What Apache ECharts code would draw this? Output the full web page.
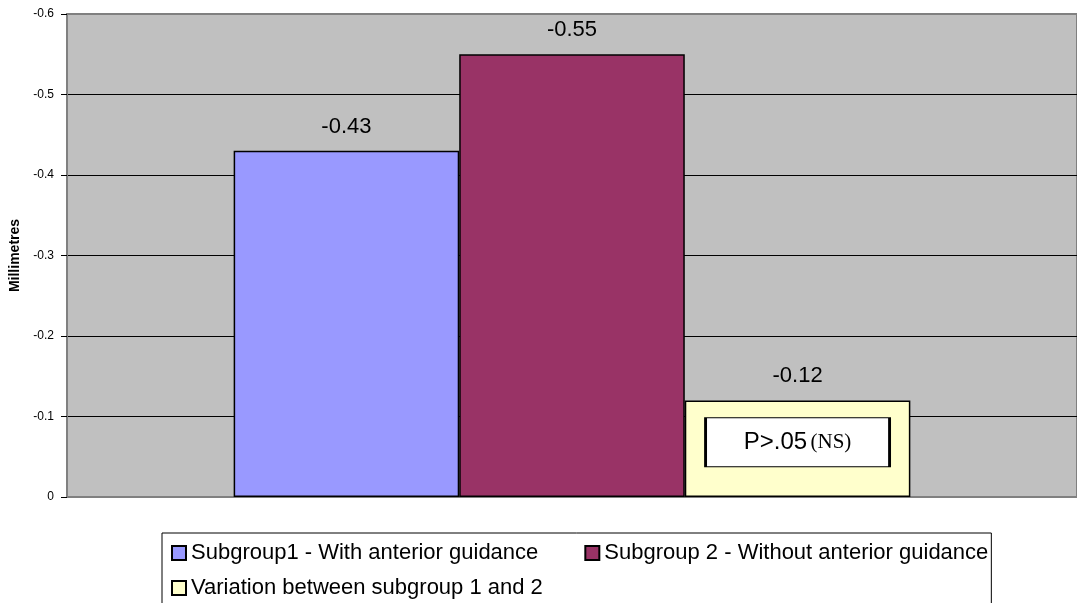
<!DOCTYPE html>
<html>
<head>
<meta charset="utf-8">
<script src="https://cdn.jsdelivr.net/npm/echarts@6/dist/echarts.min.js"></script>
<style>
html,body{margin:0;padding:0;background:#fff;}
#chart{width:1077px;height:603px;}
</style>
</head>
<body>
<div id="chart"></div>
<script>
const categories = ['Change'];
const seriesNames = ['Subgroup1 - With anterior guidance', 'Subgroup 2 - Without anterior guidance', 'Variation between subgroup 1 and 2'];
const subgroup1 = [-0.43];
const subgroup2 = [-0.55];
const variation = [-0.12];
const seriesColors = ['#9999FF', '#993366', '#FFFFCC'];
const yTicks = { min: -0.6, max: 0, interval: 0.1 };
const annotation = { text: 'P>.05', note: '(NS)', value: -0.068 };

const font = 'Arial, "Liberation Sans", sans-serif';
const chart = echarts.init(document.getElementById('chart'));

function barSeries(name, data, color, extra) {
  return Object.assign({
    name: name,
    type: 'bar',
    data: data,
    barGap: '0%',
    barCategoryGap: '33%',
    itemStyle: { color: color, borderColor: '#000', borderWidth: 1.5 },
    label: {
      show: true, position: 'top', distance: 13,
      fontFamily: font, fontSize: 22, color: '#000'
    },
    emphasis: { disabled: true }
  }, extra || {});
}

const legendBase = {
  orient: 'horizontal',
  itemWidth: 14, itemHeight: 14,
  icon: 'rect',
  textStyle: { fontFamily: font, fontSize: 22, color: '#000' }
};

chart.setOption({
  animation: false,
  backgroundColor: '#fff',
  grid: {
    left: 67, top: 14, bottom: 106, width: 1016,
    show: true, backgroundColor: '#C0C0C0', borderColor: '#808080', borderWidth: 2
  },
  xAxis: {
    type: 'category',
    data: categories,
    axisLine: { show: true, lineStyle: { color: '#808080', width: 2 } },
    axisTick: { show: false },
    axisLabel: { show: false }
  },
  yAxis: {
    type: 'value',
    inverse: true,
    min: yTicks.min, max: yTicks.max, interval: yTicks.interval,
    name: 'Millimetres',
    nameLocation: 'middle',
    nameRotate: 90,
    nameGap: 40,
    nameTextStyle: { fontFamily: font, fontSize: 14, fontWeight: 'bold', color: '#000' },
    axisLine: { show: true, lineStyle: { color: '#808080', width: 2 } },
    axisTick: { show: true, length: 6, lineStyle: { color: '#000' } },
    axisLabel: { fontFamily: font, fontSize: 12, color: '#000', margin: 13 },
    splitLine: { show: true, showMinLine: false, lineStyle: { color: '#000', width: 1 } }
  },
  legend: [
    Object.assign({}, legendBase, {
      left: 162, top: 533,
      padding: [9, 3, 50, 9],
      itemGap: 46,
      borderColor: '#000', borderWidth: 1,
      backgroundColor: '#fff',
      data: [seriesNames[0], seriesNames[1]]
    }),
    Object.assign({}, legendBase, {
      left: 162, top: 568,
      padding: [9, 3, 9, 9],
      data: [seriesNames[2]]
    })
  ],
  series: [
    barSeries(seriesNames[0], subgroup1, seriesColors[0]),
    barSeries(seriesNames[1], subgroup2, seriesColors[1]),
    barSeries(seriesNames[2], variation, seriesColors[2], {
      markPoint: {
        symbol: 'rect',
        symbolSize: [184, 49],
        itemStyle: { color: '#fff', borderColor: '#000', borderWidth: 1.5 },
        label: {
          show: true, position: 'inside',
          formatter: '{a|' + annotation.text + '} {b|' + annotation.note + '}',
          rich: {
            a: { fontFamily: font, fontSize: 24, color: '#000' },
            b: { fontFamily: '"Liberation Serif", "Times New Roman", serif', fontSize: 21, color: '#000' }
          }
        },
        emphasis: { disabled: true },
        data: [{ coord: [categories[0], annotation.value] }]
      }
    })
  ]
});
</script>
</body>
</html>
